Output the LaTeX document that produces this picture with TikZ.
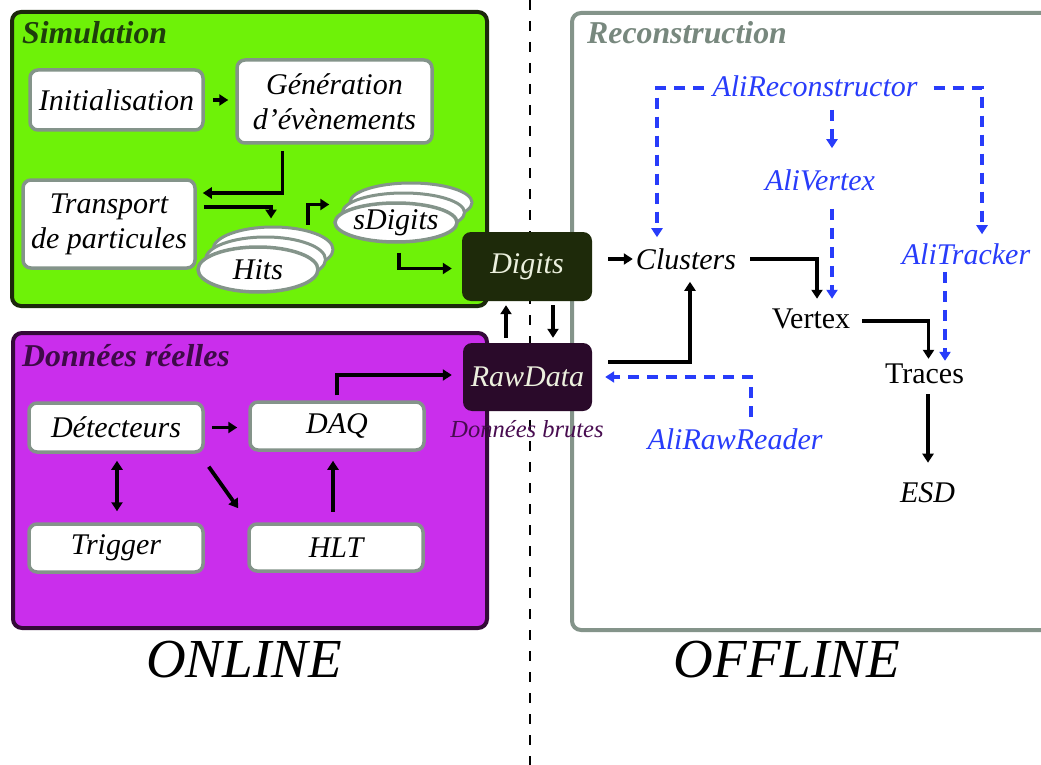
\documentclass[tikz,border=0pt]{standalone}
\usepackage{fontspec}
\setmainfont{Liberation Serif}
\usetikzlibrary{arrows.meta,shapes.geometric,calc}
\definecolor{simgreen}{RGB}{110,242,8}
\definecolor{simborder}{RGB}{28,40,12}
\definecolor{simtitle}{RGB}{30,62,12}
\definecolor{realfill}{RGB}{202,46,236}
\definecolor{realborder}{RGB}{52,10,56}
\definecolor{realtitle}{RGB}{62,10,72}
\definecolor{digfill}{RGB}{30,42,10}
\definecolor{rawfill}{RGB}{42,10,42}
\definecolor{boxgray}{RGB}{132,148,138}
\definecolor{rectitlecol}{RGB}{120,136,126}
\definecolor{aliblue}{RGB}{40,60,250}
\definecolor{lighttext}{RGB}{236,240,222}
\definecolor{brutescol}{RGB}{72,12,80}
\newcommand\txtA{\fontsize{30}{35}\selectfont\itshape}
\newcommand\txtU{\fontsize{30}{35}\selectfont}
\newcommand\txtT{\fontsize{31.8}{35}\selectfont\bfseries\itshape}
\newcommand\txtB{\fontsize{24.5}{28}\selectfont\itshape}
\newcommand\txtL{\fontsize{55}{60}\selectfont\itshape}
\begin{document}
\begin{tikzpicture}[x=1pt,y=-1pt,
  >={Triangle[length=9pt,width=11pt]},
  panel/.style={line width=4pt, rounded corners=9pt},
  wbox/.style={draw=boxgray, line width=3.5pt, fill=white, rounded corners=8pt, font=\txtA, align=center, inner sep=0pt},
  ell/.style={ellipse, draw=boxgray, line width=3.5pt, fill=white, font=\txtA, inner sep=0pt},
  ellback/.style={ell, line width=3pt},
  dbox/.style={rounded corners=9pt, text=lighttext, font=\txtA, inner sep=0pt},
  title/.style={font=\txtT, inner sep=0pt, anchor=west},
  lbl/.style={font=\txtA, inner sep=0pt},
  lblu/.style={font=\txtU, inner sep=0pt},
  ali/.style={font=\txtA, text=aliblue, inner sep=0pt},
  arr/.style={line width=3.8pt, ->},
  darr/.style={line width=3.8pt, <->},
  bl/.style={draw=aliblue, line width=3.8pt, dash pattern=on 11pt off 8pt, ->},
  divider/.style={line width=2pt, dash pattern=on 10pt off 11pt}
]
\clip (0,0) rectangle (1041,765);
\fill[white] (0,0) rectangle (1041,765);
\draw[divider] (530,0) -- (530,765);
% panels
\draw[panel, draw=boxgray, fill=white] (572,13) rectangle (1075,630);
\draw[panel, draw=simborder, fill=simgreen] (12,12) rectangle (487,306);
\draw[panel, draw=realborder, fill=realfill] (13,333) rectangle (487,628);
% titles
\node[title, text=simtitle] (simt) at (22,33) {Simulation};
\node[title, text=realtitle] (realt) at (22,356) {Données réelles};
\node[title, text=rectitlecol] (rect) at (587,33) {Reconstruction};
% simulation boxes
\node[wbox, minimum width=173pt, minimum height=60pt] (init) at (116.5,100) {Initialisation};
\node[wbox, minimum width=195pt, minimum height=83pt] (gen) at (334.5,101.5) {Génération\\d’évènements};
\node[wbox, minimum width=172pt, minimum height=88pt] (transp) at (109,224) {Transport\\de particules};
\node[ellback, minimum width=120pt, minimum height=45pt] (hits3) at (273,249.5) {};
\node[ellback, minimum width=120pt, minimum height=45pt] (hits2) at (265.5,259.5) {};
\node[ell, minimum width=120pt, minimum height=45pt] (hits1) at (258,269.5) {Hits};
\node[ellback, minimum width=122pt, minimum height=39pt] (sdig3) at (411,202.5) {};
\node[ellback, minimum width=122pt, minimum height=39pt] (sdig2) at (403.5,212.5) {};
\node[ell, minimum width=122pt, minimum height=39pt] (sdig1) at (396,222.5) {sDigits};
% real data boxes
\node[wbox, minimum width=174pt, minimum height=49pt] (det) at (116,427.5) {Détecteurs};
\node[wbox, minimum width=174pt, minimum height=48pt] (daq) at (337,426) {DAQ};
\node[wbox, minimum width=174pt, minimum height=48pt] (trig) at (116,548) {Trigger};
\node[wbox, minimum width=174pt, minimum height=47pt] (hlt) at (336,547.5) {HLT};
% digits / raw
\node[dbox, fill=digfill, minimum width=130pt, minimum height=69pt] (digits) at (527,266.5) {Digits};
\node[dbox, fill=rawfill, minimum width=129pt, minimum height=68pt] (raw) at (527.5,377) {RawData};
\node[font=\txtB, text=brutescol, inner sep=0pt] (brutes) at (527,429) {Données brutes};
% reconstruction
\node[ali] (alirec) at (815,86) {AliReconstructor};
\node[ali] (alivertex) at (820,180) {AliVertex};
\node[ali] (alitracker) at (966,254) {AliTracker};
\node[ali] (alirawreader) at (735,439) {AliRawReader};
\node[lbl] (clusters) at (686,259) {Clusters};
\node[lblu] (vertex) at (811,319) {Vertex};
\node[lblu] (traces) at (924.5,374) {Traces};
\node[lbl] (esd) at (927.5,493) {ESD};
% online / offline
\node[font=\txtL, inner sep=0pt] (online) at (244,660) {ONLINE};
\node[font=\txtL, inner sep=0pt] (offline) at (787,660) {OFFLINE};
% simulation connectors
\draw[arr, shorten <=8pt, shorten >=7pt] (init.east) -- (init.east -| gen.west);
\draw[arr, shorten <=6pt, shorten >=6pt] ($(gen.south)+(-52,0)$) |- ($(transp.east)+(0,-31)$);
\draw[arr, shorten <=7pt, shorten >=7pt] ($(transp.east)+(0,-17)$) -| ($(hits3.north)+(-2,0)$);
\draw[arr] ($(hits3.center)+(35,-25)$) |- ($(sdig1.west)+(-4,-18)$);
\draw[arr, shorten <=9pt, shorten >=10pt] ($(sdig1.south)+(3,0)$) |- ($(digits.west)+(0,2)$);
\draw[arr, shorten <=5pt, shorten >=4pt] ($(raw.north)+(-21.5,0)$) -- ($(digits.south)+(-21,0)$);
\draw[arr, shorten <=4pt, shorten >=5pt] ($(digits.south)+(26,0)$) -- ($(raw.north)+(25.5,0)$);
% real data connectors
\draw[arr, shorten <=7pt, shorten >=11pt] (det.east) -- (det.east -| daq.west);
\draw[darr, shorten <=7pt, shorten >=11pt] ($(det.south)+(1,0)$) -- ($(trig.north)+(1,0)$);
\draw[arr] ($(det.south east)+(4,13)$) -- ($(hlt.north west)+(-9,-14)$);
\draw[arr, shorten <=10.5pt, shorten >=9pt] ($(hlt.north)+(-3,0)$) -- ($(daq.south)+(-4,0)$);
\draw[arr, shorten <=5pt, shorten >=11pt] (daq.north) |- ($(raw.west)+(0,-2)$);
% reconstruction connectors
\draw[arr, shorten >=3pt] ($(digits.east |- clusters.west)+(16,0)$) -- (clusters.west);
\draw[arr, shorten <=14pt, shorten >=10pt] (clusters.east) -| ($(vertex.north)+(6,0)$);
\draw[arr, shorten <=12pt, shorten >=5pt] ($(vertex.east)+(0,2)$) -| ($(traces.north)+(4,0)$);
\draw[arr, shorten <=10pt, shorten >=20pt] ($(traces.south)+(3.5,0)$) -- ($(esd.north)+(0.5,0)$);
\draw[arr, shorten >=12pt] ($(raw.east)+(16,-15)$) -| ($(clusters.south)+(4,0)$);
\draw[bl, shorten <=8pt, shorten >=11pt] ($(alirec.west)+(0,2)$) -| ($(clusters.north)+(-29,0)$);
\draw[bl, shorten <=16pt, shorten >=9pt] ($(alirec.east)+(0,2)$) -| ($(alitracker.north)+(16,0)$);
\draw[bl, shorten <=13pt, shorten >=21pt] ($(alirec.south)+(17,0)$) -- ($(alivertex.north)+(12,0)$);
\draw[bl, shorten <=18pt, shorten >=10pt] ($(alivertex.south)+(12,0)$) -- ($(vertex.north)+(21,0)$);
\draw[bl, shorten <=7pt, shorten >=3pt] ($(alitracker.south)+(-21,0)$) -- ($(traces.north)+(20.5,0)$);
\draw[bl, shorten <=11pt, shorten >=13pt] ($(alirawreader.north)+(16,0)$) |- (raw.east);
\end{tikzpicture}
\end{document}
